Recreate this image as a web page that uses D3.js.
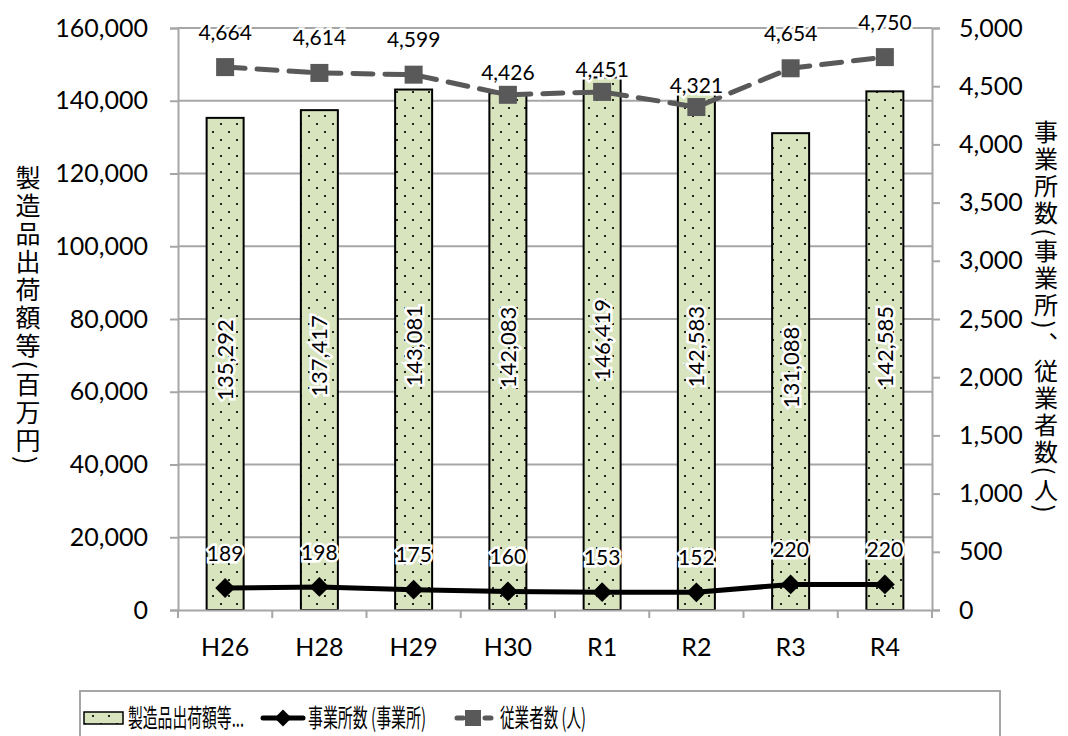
<!DOCTYPE html>
<html>
<head>
<meta charset="utf-8">
<script src="https://cdn.jsdelivr.net/npm/d3@7"></script>
<style>
  body { margin: 0; background: #fff; }
  text { font-family: Lato, "Noto Sans", sans-serif; fill: #000; }
  .jp { font-family: "Noto Sans CJK JP", sans-serif; }
</style>
</head>
<body>
<div id="chart"></div>
<script>
// data
const years = ["H26", "H28", "H29", "H30", "R1", "R2", "R3", "R4"];
const shipments = [135292, 137417, 143081, 142083, 146419, 142583, 131088, 142585];
const offices = [189, 198, 175, 160, 153, 152, 220, 220];
const workers = [4664, 4614, 4599, 4426, 4451, 4321, 4654, 4750];
const leftTicks = [0, 20000, 40000, 60000, 80000, 100000, 120000, 140000, 160000];
const rightTicks = [0, 500, 1000, 1500, 2000, 2500, 3000, 3500, 4000, 4500, 5000];

const width = 1068, height = 736;
const margin = {top: 28, right: 136, bottom: 126, left: 178};
const gray = "#a6a6a6";

const svg = d3.select("#chart").append("svg")
    .attr("width", width)
    .attr("height", height);

// dotted fill for the bars
const pat = svg.append("defs").append("pattern")
    .attr("id", "dots")
    .attr("patternUnits", "userSpaceOnUse")
    .attr("width", 16).attr("height", 16);
pat.append("rect").attr("width", 16).attr("height", 16).attr("fill", "#d7e4bd");
pat.append("rect").attr("x", 4).attr("y", 3).attr("width", 2).attr("height", 2).attr("fill", "#222");
pat.append("rect").attr("x", 12).attr("y", 11).attr("width", 2).attr("height", 2).attr("fill", "#222");

const x = d3.scaleBand()
    .domain(years)
    .range([margin.left, width - margin.right]);

const yL = d3.scaleLinear()
    .domain([0, 160000])
    .range([height - margin.bottom, margin.top]);

const yR = d3.scaleLinear()
    .domain([0, 5000])
    .range([height - margin.bottom, margin.top]);

const fmt = d3.format(",");

// gridlines
svg.append("g")
    .selectAll("line")
    .data(leftTicks.slice(1))
    .join("line")
    .attr("x1", margin.left).attr("x2", width - margin.right)
    .attr("y1", d => yL(d)).attr("y2", d => yL(d))
    .attr("stroke", gray).attr("stroke-width", 2);

// left axis
const gL = svg.append("g")
    .attr("transform", `translate(${margin.left},0)`)
    .call(d3.axisLeft(yL).tickValues(leftTicks).tickFormat(fmt).tickSize(8).tickPadding(22));
gL.selectAll("text").style("font-size", "25px");

// right axis
const gR = svg.append("g")
    .attr("transform", `translate(${width - margin.right},0)`)
    .call(d3.axisRight(yR).tickValues(rightTicks).tickFormat(fmt).tickSize(8).tickPadding(19));
gR.selectAll("text").style("font-size", "25px");

[gL, gR].forEach(g => {
    g.select(".domain").attr("stroke", gray).attr("stroke-width", 2);
    g.selectAll(".tick line").attr("stroke", gray).attr("stroke-width", 2);
    g.attr("font-family", null);
});

// bars
const barW = 37;
svg.append("g")
    .selectAll("rect")
    .data(shipments)
    .join("rect")
    .attr("x", (d, i) => x(years[i]) + x.bandwidth() / 2 - barW / 2)
    .attr("y", d => yL(d))
    .attr("width", barW)
    .attr("height", d => yL(0) - yL(d))
    .attr("fill", "url(#dots)")
    .attr("stroke", "#000")
    .attr("stroke-width", 2);

// bottom axis
const gB = svg.append("g")
    .attr("transform", `translate(0,${yL(0)})`)
    .call(d3.axisBottom(x).tickSize(0).tickPadding(28));
gB.select(".domain").attr("stroke", gray).attr("stroke-width", 2);
gB.attr("font-family", null);
gB.selectAll("text").style("font-size", "25px");
svg.append("g")
    .selectAll("line")
    .data(years.concat(["end"]))
    .join("line")
    .attr("x1", (d, i) => margin.left + i * x.step())
    .attr("x2", (d, i) => margin.left + i * x.step())
    .attr("y1", yL(0)).attr("y2", yL(0) + 8)
    .attr("stroke", gray).attr("stroke-width", 2);

// bar labels
svg.append("g")
    .selectAll("text")
    .data(shipments)
    .join("text")
    .attr("transform", (d, i) => `translate(${x(years[i]) + x.bandwidth() / 2},${(yL(d) + yL(0)) / 2 - 4}) rotate(-90)`)
    .attr("text-anchor", "middle")
    .attr("dy", "0.36em")
    .style("font-size", "22px")
    .attr("stroke", "#fff").attr("stroke-width", 5).attr("paint-order", "stroke")
    .text(fmt);

const cx = (d, i) => x(years[i]) + x.bandwidth() / 2;

// workers line (dashed, gray)
svg.append("path")
    .datum(workers)
    .attr("fill", "none")
    .attr("stroke", "#595959")
    .attr("stroke-width", 5)
    .attr("stroke-linecap", "round")
    .attr("stroke-dasharray", "20,12")
    .attr("d", d3.line().x(cx).y(d => yR(d)));
svg.append("g")
    .selectAll("rect")
    .data(workers)
    .join("rect")
    .attr("x", (d, i) => cx(d, i) - 9)
    .attr("y", d => yR(d) - 9)
    .attr("width", 18).attr("height", 18)
    .attr("fill", "#595959");

// offices line (solid, black)
svg.append("path")
    .datum(offices)
    .attr("fill", "none")
    .attr("stroke", "#000")
    .attr("stroke-width", 5)
    .attr("d", d3.line().x(cx).y(d => yR(d)));
svg.append("g")
    .selectAll("path")
    .data(offices)
    .join("path")
    .attr("transform", (d, i) => `translate(${cx(d, i)},${yR(d)}) rotate(45)`)
    .attr("d", "M-7,-7H7V7H-7Z")
    .attr("fill", "#000");

// line labels
svg.append("g")
    .selectAll("text")
    .data(offices)
    .join("text")
    .attr("x", cx)
    .attr("y", d => yR(d) - 35)
    .attr("text-anchor", "middle")
    .attr("dy", "0.36em")
    .style("font-size", "21px")
    .attr("stroke", "#fff").attr("stroke-width", 5).attr("paint-order", "stroke")
    .text(fmt);

svg.append("g")
    .selectAll("text")
    .data(workers)
    .join("text")
    .attr("x", cx)
    .attr("y", d => yR(d) - (d > 4500 ? 35 : 22))
    .attr("text-anchor", "middle")
    .attr("dy", "0.36em")
    .style("font-size", "21px")
    .attr("stroke", "#fff").attr("stroke-width", 5).attr("paint-order", "stroke")
    .text(fmt);

// axis titles (vertical Japanese)
svg.append("text")
    .attr("class", "jp")
    .attr("x", 28).attr("y", 316)
    .attr("writing-mode", "vertical-rl")
    .attr("text-anchor", "middle")
    .style("font-size", "25px")
    .style("letter-spacing", "3px")
    .text("製造品出荷額等(百万円)");

svg.append("text")
    .attr("class", "jp")
    .attr("x", 1046).attr("y", 318)
    .attr("writing-mode", "vertical-rl")
    .attr("text-anchor", "middle")
    .style("font-size", "24px")
    .style("letter-spacing", "3px")
    .text("事業所数(事業所)、従業者数(人)");

// legend
const lg = svg.append("g");
lg.append("rect")
    .attr("x", 80).attr("y", 691)
    .attr("width", 920).attr("height", 70)
    .attr("fill", "none")
    .attr("stroke", gray).attr("stroke-width", 2);

const ly = 718;
lg.append("rect")
    .attr("x", 84).attr("y", ly - 6).attr("width", 39).attr("height", 12)
    .attr("fill", "url(#dots)").attr("stroke", "#000").attr("stroke-width", 1.5);
lg.append("text").attr("class", "jp")
    .attr("x", 128).attr("y", ly).attr("dy", "0.36em")
    .attr("textLength", 116).attr("lengthAdjust", "spacingAndGlyphs")
    .style("font-size", "25px")
    .text("製造品出荷額等...");

lg.append("line")
    .attr("x1", 263).attr("x2", 303).attr("y1", ly).attr("y2", ly)
    .attr("stroke", "#000").attr("stroke-width", 5).attr("stroke-linecap", "round");
lg.append("path")
    .attr("transform", `translate(283,${ly}) rotate(45)`)
    .attr("d", "M-6,-6H6V6H-6Z").attr("fill", "#000");
lg.append("text").attr("class", "jp")
    .attr("x", 308).attr("y", ly).attr("dy", "0.36em")
    .attr("textLength", 118).attr("lengthAdjust", "spacingAndGlyphs")
    .style("font-size", "25px")
    .text("事業所数 (事業所)");

lg.append("line")
    .attr("x1", 457).attr("x2", 491).attr("y1", ly).attr("y2", ly)
    .attr("stroke", "#595959").attr("stroke-width", 5)
    .attr("stroke-linecap", "round").attr("stroke-dasharray", "6,8");
lg.append("rect")
    .attr("x", 465).attr("y", ly - 8).attr("width", 16).attr("height", 16)
    .attr("fill", "#595959");
lg.append("text").attr("class", "jp")
    .attr("x", 500).attr("y", ly).attr("dy", "0.36em")
    .attr("textLength", 86).attr("lengthAdjust", "spacingAndGlyphs")
    .style("font-size", "25px")
    .text("従業者数 (人)");
</script>
</body>
</html>
